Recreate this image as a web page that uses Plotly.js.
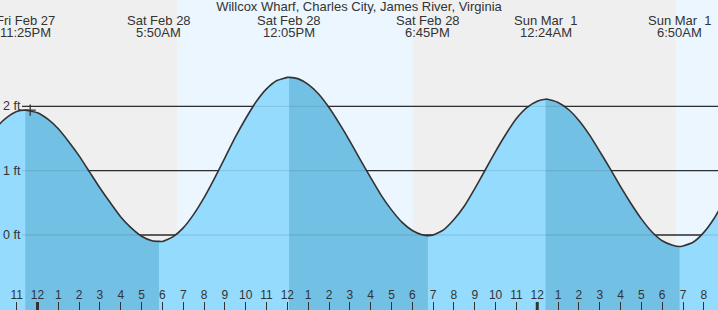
<!DOCTYPE html>
<html>
<head>
<meta charset="utf-8">
<script src="https://cdn.plot.ly/plotly-3.0.1.min.js"></script>
<style>html,body{margin:0;padding:0;background:#efefef;}#chart{width:718px;height:310px;}</style>
</head>
<body>
<div id="chart"></div>
<script>
// ---- data (hours counted from Sat Feb 28 00:00) ----
const chartTitle = 'Willcox Wharf, Charles City, James River, Virginia';
const hours = [-2,-1.5,-1,-0.583,0,0.5,1,1.5,2,2.5,3,3.5,4,4.5,5,5.5,5.833,6,6.5,7,7.5,8,8.5,9,9.5,10,10.5,11,11.5,12,12.083,12.5,13,13.5,14,14.5,15,15.5,16,16.5,17,17.5,18,18.5,18.75,19,19.5,20,20.5,21,21.5,22,22.5,23,23.5,24,24.4,24.5,25,25.5,26,26.5,27,27.5,28,28.5,29,29.5,30,30.5,30.833,31,31.5,32,32.5,33];
const heights = [1.67,1.82,1.92,1.94,1.90,1.80,1.65,1.45,1.23,0.98,0.73,0.50,0.28,0.11,-0.02,-0.09,-0.10,-0.10,-0.03,0.11,0.32,0.58,0.88,1.20,1.52,1.81,2.07,2.27,2.40,2.45,2.45,2.43,2.34,2.19,1.98,1.73,1.46,1.17,0.89,0.62,0.39,0.20,0.07,0.00,-0.01,0.00,0.08,0.24,0.45,0.72,1.01,1.30,1.57,1.81,1.98,2.08,2.11,2.11,2.06,1.95,1.78,1.56,1.30,1.03,0.75,0.49,0.25,0.05,-0.09,-0.16,-0.18,-0.17,-0.11,0.04,0.26,0.54];
const extremeHours = [-0.583, 5.833, 12.083, 18.75, 24.4, 30.833];
const extremeTypes = ['H','L','H','L','H','L'];
const extremeDates = ['Fri Feb 27','Sat Feb 28','Sat Feb 28','Sat Feb 28','Sun Mar\u00a0\u00a01','Sun Mar\u00a0\u00a01'];
const extremeClock = ['11:25PM','5:50AM','12:05PM','6:45PM','12:24AM','6:50AM'];
const dayStart = [6.70, 30.66];
const dayEnd = [18.03, 34];
const nowHour = [-0.35];
const nowHeight = [1.94];
const levelValues = [0, 1, 2];
const levelLabels = ['0 ft', '1 ft', '2 ft'];
const tickHours = [-2,-1,0,1,2,3,4,5,6,7,8,9,10,11,12,13,14,15,16,17,18,19,20,21,22,23,24,25,26,27,28,29,30,31,32];
const tickLabels = ['10','11','12','1','2','3','4','5','6','7','8','9','10','11','12','1','2','3','4','5','6','7','8','9','10','11','12','1','2','3','4','5','6','7','8'];
const midnightHours = [0, 24];

// ---- styling ----
const FONT = 'Liberation Sans, Arial, sans-serif';
const TXT = '#333333';
const xRange = [-1.80, 32.68];
const yRange = [-1.166, 3.652];
const lightFill = '#95dbfd';
const darkFill = '#72c0e4';

const traces = [];
traces.push({
  x: hours.concat([hours[hours.length-1], hours[0]]),
  y: heights.concat([yRange[0]-1, yRange[0]-1]),
  mode: 'lines', fill: 'toself', fillcolor: lightFill,
  line: {width: 0, color: lightFill}, hoverinfo: 'skip'
});
for (let i = 0; i < extremeHours.length - 1; i++) {
  if (extremeTypes[i] !== 'H') continue;
  const a = extremeHours[i], b = extremeHours[i+1];
  const xs = [], ys = [];
  hours.forEach((h, k) => { if (h >= a - 1e-6 && h <= b + 1e-6) { xs.push(h); ys.push(heights[k]); } });
  traces.push({
    x: xs.concat([b, a]), y: ys.concat([yRange[0]-1, yRange[0]-1]),
    mode: 'lines', fill: 'toself', fillcolor: darkFill,
    line: {width: 0, color: darkFill}, hoverinfo: 'skip'
  });
}
traces.push({
  x: hours, y: heights, mode: 'lines',
  line: {color: '#333333', width: 1.6, shape: 'spline', smoothing: 0.5},
  hoverinfo: 'skip'
});
traces.push({
  x: nowHour, y: nowHeight, mode: 'markers',
  marker: {symbol: 'cross-thin', size: 8, line: {color: '#333333', width: 1.3}},
  hoverinfo: 'skip'
});

const shapes = [];
dayStart.forEach((s, i) => shapes.push({
  type: 'rect', xref: 'x', yref: 'paper', x0: s, x1: dayEnd[i], y0: 0, y1: 1,
  fillcolor: '#ebf6fe', line: {width: 0}, layer: 'below'
}));
levelValues.forEach(v => shapes.push({
  type: 'line', xref: 'paper', yref: 'y', x0: 0.0306, x1: 1, y0: v, y1: v,
  line: {color: '#333333', width: 1.3}, layer: 'below'
}));
levelValues.forEach(v => shapes.push({
  type: 'line', xref: 'paper', yref: 'y', x0: 0.0306, x1: 1, y0: v, y1: v,
  line: {color: 'rgba(0,0,0,0.09)', width: 1.3}, layer: 'above'
}));
midnightHours.forEach(h => shapes.push({
  type: 'line', xref: 'x', yref: 'paper', x0: h, x1: h, y0: 0, y1: 8/310,
  line: {color: '#333333', width: 3}, layer: 'above'
}));

const annotations = [];
extremeHours.forEach((h, i) => {
  annotations.push({x: h, xref: 'x', y: 1 - 20.3/310, yref: 'paper', yanchor: 'middle', xanchor: 'center',
    text: extremeDates[i], showarrow: false, font: {family: FONT, size: 13, color: TXT}});
  annotations.push({x: h, xref: 'x', y: 1 - 32.5/310, yref: 'paper', yanchor: 'middle', xanchor: 'center',
    text: extremeClock[i], showarrow: false, font: {family: FONT, size: 13, color: TXT}});
});
levelValues.forEach((v, i) => annotations.push({
  x: 0, xref: 'paper', xanchor: 'left', xshift: 1, y: v, yref: 'y', yanchor: 'middle',
  text: levelLabels[i], showarrow: false, font: {family: FONT, size: 12.5, color: TXT}
}));

const layout = {
  width: 718, height: 310,
  margin: {l: 0, r: 0, t: 0, b: 0, pad: 0},
  paper_bgcolor: '#efefef', plot_bgcolor: '#efefef',
  showlegend: false,
  title: {text: chartTitle, x: 0.5, xanchor: 'center', xref: 'paper', y: 1, yref: 'container', yanchor: 'top',
    pad: {t: 2}, font: {family: FONT, size: 13, color: TXT}},
  xaxis: {range: xRange, tickvals: tickHours, ticktext: tickLabels, ticks: 'inside', ticklen: 8,
    tickwidth: 1, tickcolor: '#333333', ticklabelposition: 'inside', showgrid: false, zeroline: false,
    showline: false, tickfont: {family: FONT, size: 12, color: TXT}, fixedrange: true},
  yaxis: {range: yRange, showticklabels: false, ticks: '',
    showgrid: false, zeroline: false, showline: false, fixedrange: true},
  shapes: shapes,
  annotations: annotations
};

Plotly.newPlot('chart', traces, layout, {staticPlot: true, displayModeBar: false});
</script>
</body>
</html>
